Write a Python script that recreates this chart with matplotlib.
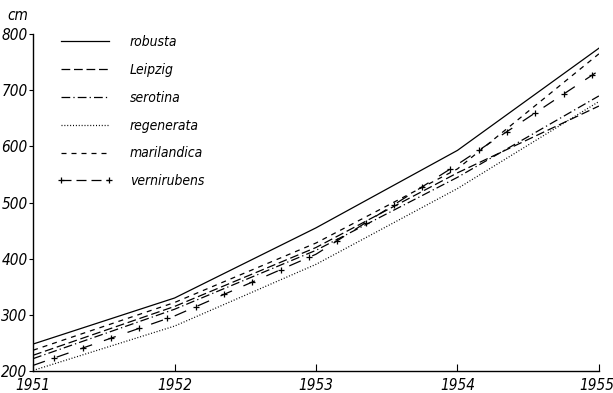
import matplotlib
matplotlib.use("Agg")
import matplotlib.pyplot as plt
from matplotlib import font_manager
from matplotlib.transforms import offset_copy
import numpy as np

names = {f.name for f in font_manager.fontManager.ttflist}
narrow = [n for n in ['Liberation Sans Narrow', 'DejaVu Sans Condensed'] if n in names]
plt.rcParams['font.family'] = narrow + ['DejaVu Sans']
plt.rcParams['font.style'] = 'italic'
plt.rcParams['font.stretch'] = 'condensed'

years = [1951, 1952, 1953, 1954, 1955]
robusta = [248, 330, 455, 593, 775]
leipzig = [228, 315, 420, 553, 672]
serotina = [222, 310, 415, 545, 690]
regenerata = [201, 280, 390, 525, 680]
marilandica = [237, 322, 428, 560, 765]
vernirubens = [210, 298, 408, 568, 735]

fig = plt.figure(figsize=(6.13, 3.93), dpi=100)
ax = fig.add_axes([0.054, 0.056, 0.923, 0.857])

lw = 0.9
ax.plot(years, robusta, color='black', lw=lw, ls='-', label='robusta')
ax.plot(years, leipzig, color='black', lw=lw, dashes=(7, 3), label='Leipzig')
ax.plot(years, serotina, color='black', lw=lw, dashes=(7, 2.5, 1, 2.5), label='serotina')
ax.plot(years, regenerata, color='black', lw=lw, dashes=(0.8, 1.5), label='regenerata')
ax.plot(years, marilandica, color='black', lw=lw, dashes=(4, 4), label='marilandica')
ax.plot(years, vernirubens, color='black', lw=lw, dashes=(10, 10))
# crosses sitting in the gaps of the vernirubens line
mx = np.arange(years[0] + 0.15, years[-1], 0.2)
ax.plot(mx, np.interp(mx, years, vernirubens), ls='none', marker='+',
        color='black', ms=5, mew=0.9)
ax.plot([], [], color='black', lw=lw, dashes=(8, 4), marker='+', ms=5,
        mew=0.9, label='vernirubens')

ax.set_xlim(1951, 1955)
ax.set_ylim(200, 800)
ax.set_xticks(years)
ax.set_yticks([200, 300, 400, 500, 600, 700, 800])
ax.spines['top'].set_visible(False)
ax.spines['right'].set_visible(False)
ax.tick_params(axis='x', direction='in', length=5, labelsize=11, pad=5)
ax.tick_params(axis='y', direction='out', length=3, labelsize=11, pad=1)
for s in ['left', 'bottom']:
    ax.spines[s].set_linewidth(1.0)

# keep the last year label inside the picture
last = ax.get_xticklabels()[-1]
last.set_transform(offset_copy(last.get_transform(), fig=fig, x=-2, units='dots'))

fig.text(18 / 613, 1 - 15 / 393, 'cm', fontsize=11, ha='center', va='center')

leg = ax.legend(loc='upper left', bbox_to_anchor=(0.019, 1.035), frameon=False,
                handlelength=4.1, handletextpad=1.2, labelspacing=1.0,
                numpoints=2, fontsize=10)

fig.savefig('out.png', dpi=100)
